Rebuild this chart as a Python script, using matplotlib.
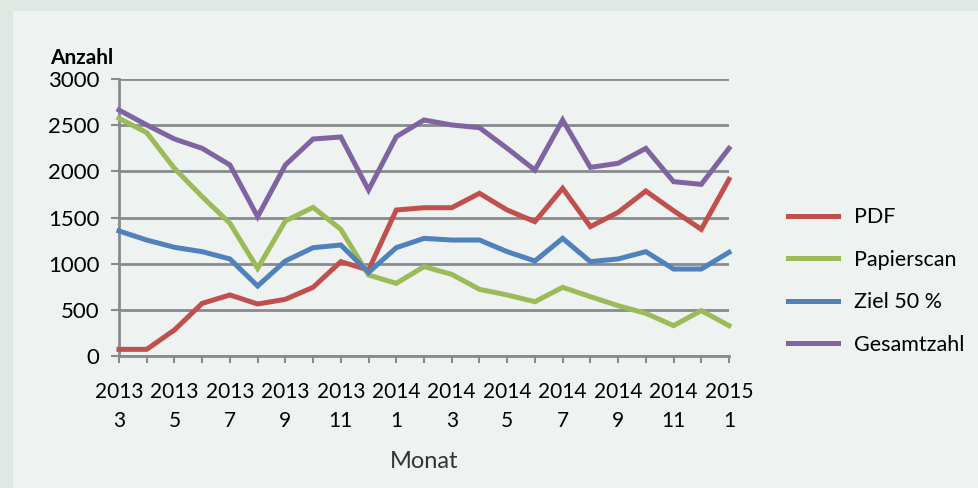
import matplotlib.pyplot as plt
from matplotlib.patches import Rectangle
from matplotlib.ticker import FixedLocator

# months 2013-3 .. 2015-1
months = list(range(23))
tick_labels = ["2013\n3", "2013\n5", "2013\n7", "2013\n9", "2013\n11", "2014\n1",
               "2014\n3", "2014\n5", "2014\n7", "2014\n9", "2014\n11", "2015\n1"]

pdf = [72, 72, 282, 570, 661, 563, 614, 744, 1022, 931, 1581, 1606,
       1606, 1762, 1581, 1455, 1816, 1401, 1556, 1787, 1574, 1372, 1913]
papierscan = [2574, 2419, 2032, 1726, 1437, 949, 1462, 1610, 1372, 877, 787, 968,
              884, 722, 661, 588, 744, 643, 545, 462, 329, 491, 329]
ziel = [1354, 1256, 1177, 1130, 1051, 758, 1029, 1173, 1202, 905, 1173, 1274,
        1256, 1256, 1130, 1029, 1274, 1022, 1051, 1130, 942, 942, 1123]
gesamt = [2664, 2502, 2350, 2249, 2069, 1509, 2069, 2350, 2372, 1798, 2375, 2556,
          2502, 2473, 2249, 2014, 2556, 2043, 2087, 2249, 1888, 1859, 2249]

series = [("PDF", pdf, "#c0504d"), ("Papierscan", papierscan, "#9bbb59"),
          ("Ziel 50 %", ziel, "#4f81bd"), ("Gesamtzahl", gesamt, "#8064a2")]

plt.rcParams['font.family'] = ['Lato', 'DejaVu Sans']
W, H = 979, 488
fig = plt.figure(figsize=(W / 100, H / 100), dpi=100, facecolor="#dfe8e3")
fig.patches.append(Rectangle((13 / W, 0), 1, 1 - 11 / H, transform=fig.transFigure,
                             facecolor="#eef2f0", edgecolor="none", zorder=-10))

ax = fig.add_axes([119 / W, 1 - 356 / H, 610 / W, 277 / H])
ax.set_facecolor("none")
grid_c = "#878b8f"

for name, vals, col in series:
    ax.plot(months, vals, color=col, lw=3.6, label=name, clip_on=False,
            solid_joinstyle="miter", zorder=3)

ax.set_xlim(0, 22)
ax.set_ylim(0, 3000)
ax.set_yticks(range(0, 3001, 500))
ax.yaxis.grid(True, color=grid_c, lw=2)
ax.set_axisbelow(True)
for s in ["top", "right"]:
    ax.spines[s].set_visible(False)
ax.spines["left"].set_color(grid_c)
ax.spines["left"].set_linewidth(2)
ax.spines["bottom"].set_color(grid_c)
ax.spines["bottom"].set_linewidth(2)

ax.xaxis.set_major_locator(FixedLocator(months[::2]))
ax.xaxis.set_minor_locator(FixedLocator(months))
ax.set_xticklabels(tick_labels, linespacing=1.55)
ax.tick_params(axis="x", which="both", length=5, width=1.5, color=grid_c,
               labelsize=15, pad=14)
ax.tick_params(axis="y", length=6, width=1.5, color=grid_c, labelsize=16, pad=8)

ax.text(-0.113, 1.075, "Anzahl", transform=ax.transAxes, fontsize=15,
        fontweight="bold", ha="left", va="center")
fig.text(424 / W, 1 - 461 / H, "Monat", fontsize=17, color="#333333",
         ha="center", va="center")

fig.legend(loc="center left", bbox_to_anchor=(788 / W, 1 - 281 / H), frameon=False,
           fontsize=15.5, handlelength=2.3, handletextpad=0.75, labelspacing=1.05,
           borderpad=0, borderaxespad=0)

fig.savefig("out.png", dpi=100, facecolor=fig.get_facecolor())
